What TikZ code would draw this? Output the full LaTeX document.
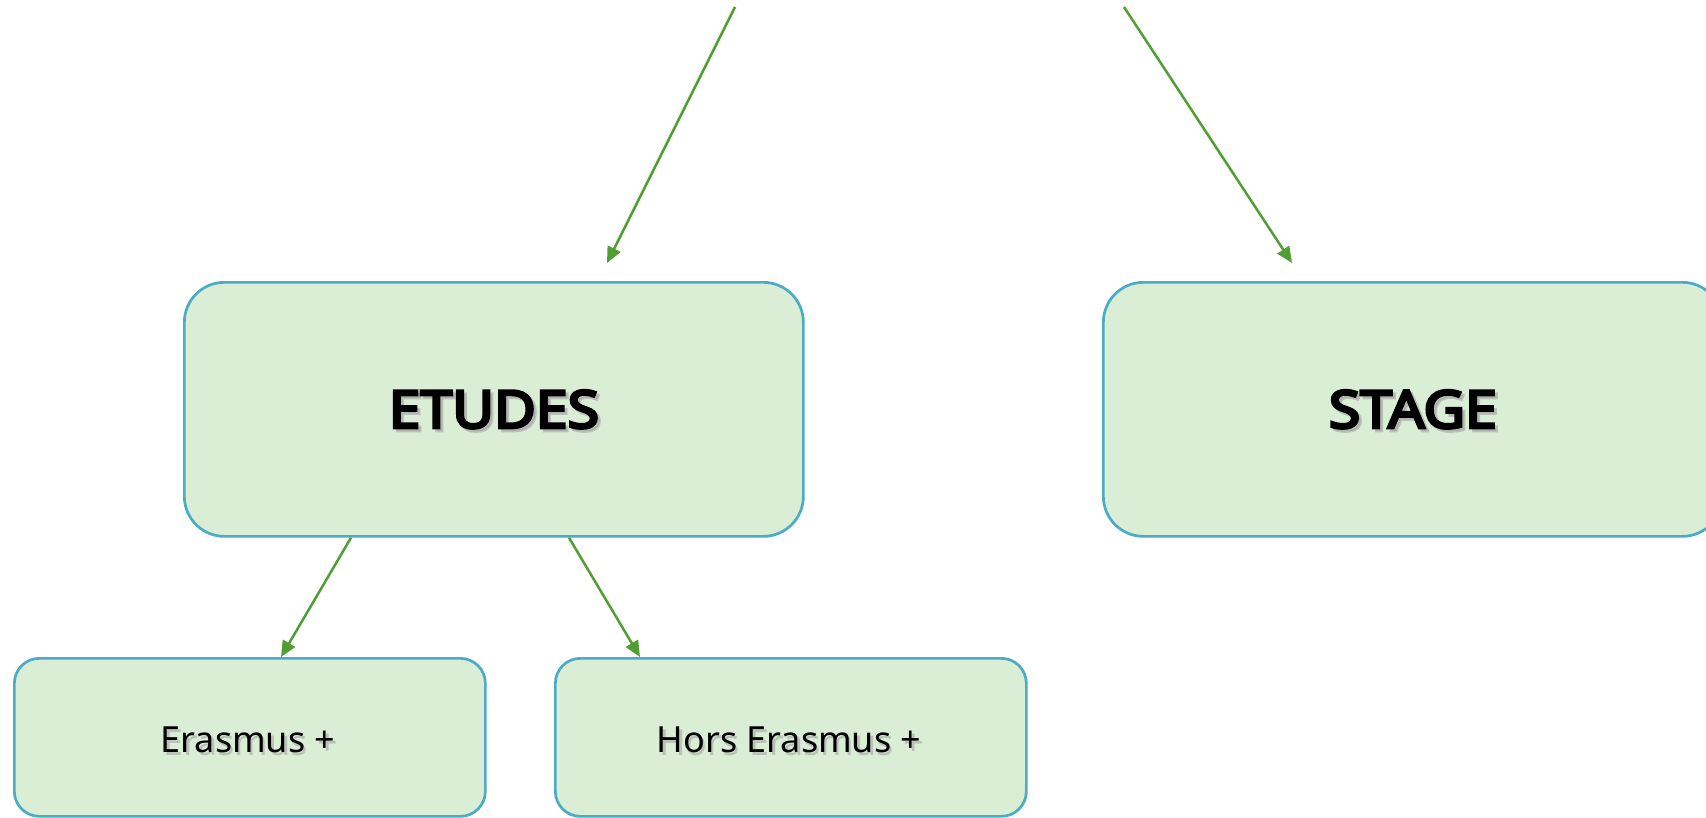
\documentclass[tikz,border=0pt]{standalone}
\usepackage{fontspec}
\setmainfont{Noto Sans}
\newfontfamily\heavyfont{Noto Sans}[FakeBold=5.5, FakeStretch=1.1]
\usetikzlibrary{arrows.meta}
\definecolor{boxfill}{HTML}{DAEED5}
\definecolor{boxline}{HTML}{4BACC6}
\definecolor{arrowgreen}{HTML}{509E34}
\tikzset{
  bigbox/.style={draw=boxline, fill=boxfill, line width=2.7pt, rounded corners=40pt},
  smallbox/.style={draw=boxline, fill=boxfill, line width=2.7pt, rounded corners=25pt},
  conn/.style={draw=arrowgreen, line width=2.5pt, -{Triangle[length=16pt,width=14pt]}},
  shadowtxt/.style={text=black!35, opacity=0.6},
  bigtxt/.style={font=\heavyfont\fontsize{52}{60}\selectfont},
  smalltxt/.style={font=\fontsize{36}{43}\selectfont},
}
\begin{document}
\begin{tikzpicture}[x=1pt,y=-1pt]
\useasboundingbox (0,0) rectangle (1706,817);
\clip (0,0) rectangle (1706,817);
% boxes
\node[bigbox, minimum width=619pt, minimum height=254pt, anchor=north west, inner sep=0pt] (etudes) at (183,281) {};
\node[bigbox, minimum width=619pt, minimum height=254pt, anchor=north west, inner sep=0pt] (stage) at (1102,281) {};
\node[smallbox, minimum width=471pt, minimum height=158pt, anchor=north west, inner sep=0pt] (eras) at (13,657) {};
\node[smallbox, minimum width=471pt, minimum height=158pt, anchor=north west, inner sep=0pt] (hors) at (554,657) {};
% texts with shadow
\node[bigtxt, shadowtxt] at ([xshift=3pt,yshift=-3pt]etudes.center) {ETUDES};
\node[bigtxt] (etudestxt) at (etudes.center) {ETUDES};
\node[bigtxt, shadowtxt] at ([xshift=3pt,yshift=-3pt]stage.center) {STAGE};
\node[bigtxt] (stagetxt) at (stage.center) {STAGE};
\node[smalltxt, shadowtxt] at (250.5,742.5) {Erasmus +};
\node[smalltxt] (erastxt) at (248,740) {Erasmus +};
\node[smalltxt, shadowtxt] at (791.5,742.5) {Hors Erasmus +};
\node[smalltxt] (horstxt) at (789,740) {Hors Erasmus +};
% connectors
\coordinate (topA) at (735,7);
\coordinate (topB) at (1124,7);
\coordinate (endA) at (607,263);
\coordinate (endB) at (1292,263);
\draw[conn] (topA) -- (endA);
\draw[conn] (topB) -- (endB);
\draw[conn] (etudes.south -| 351,0) -- (eras.north -| 281,0);
\draw[conn] (etudes.south -| 569,0) -- (hors.north -| 640,0);
\end{tikzpicture}
\end{document}
